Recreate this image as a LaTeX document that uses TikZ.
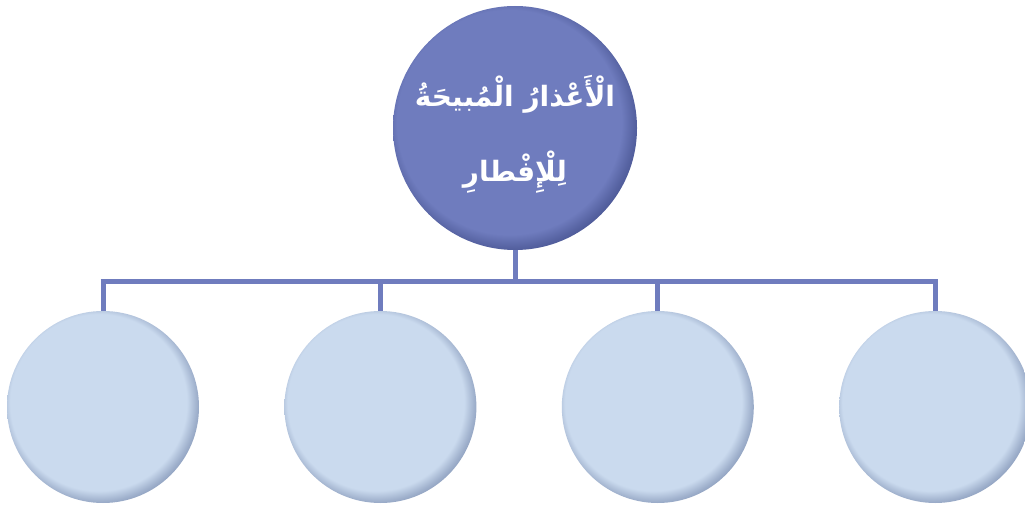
\documentclass[tikz,border=0pt]{standalone}
\usepackage{fontspec}
\usetikzlibrary{positioning, calc}
\TeXXeTstate=1
\newfontfamily\arabicfont[Script=Arabic]{DejaVu Sans}

\definecolor{rootcol}{HTML}{6F7CBE}
\definecolor{rootrim}{HTML}{46528F}
\definecolor{leafcol}{HTML}{CADAEE}
\definecolor{leafrim}{HTML}{8395B6}
\definecolor{linkcol}{HTML}{6F7CBE}

\pgfdeclareradialshading{rootbevel}{\pgfpoint{-2.2bp}{2.2bp}}{%
  color(0bp)=(rootcol); color(23bp)=(rootcol); color(25.5bp)=(rootrim!60!rootcol);
  color(27.5bp)=(rootrim); color(50bp)=(rootrim)}
\pgfdeclareradialshading{leafbevel}{\pgfpoint{-2.2bp}{2.2bp}}{%
  color(0bp)=(leafcol); color(23bp)=(leafcol); color(25.5bp)=(leafrim!60!leafcol);
  color(27.5bp)=(leafrim); color(50bp)=(leafrim)}

\begin{document}
\begin{tikzpicture}[
    x=1pt, y=-1pt,
    root/.style={circle, minimum size=244pt, inner sep=0pt, shading=rootbevel},
    title/.style={text=white, align=center, font=\arabicfont\bfseries\fontsize{28}{76}\selectfont},
    leaf/.style={circle, minimum size=192pt, inner sep=0pt, shading=leafbevel},
    link/.style={draw=linkcol, line width=5pt},
]
    \useasboundingbox (0,0) rectangle (1025,505);

    \node[root] (root) at (515,128) {};
    \node[title] (label) at ($(root.center)+(0,6)$)
        {\beginR الْأَعْذارُ الْمُبيحَةُ\endR\\[-1pt]\beginR لِلْإِفْطارِ\endR};

    \node[leaf] (c1) at (103,407) {};
    \node[leaf] (c2) [right=85pt of c1] {};
    \node[leaf] (c3) [right=85pt of c2] {};
    \node[leaf] (c4) [right=85pt of c3] {};

    \coordinate (bar) at (0,281);
    \draw[link] (root.south) -- (root.south |- bar);
    \draw[link] ($(c1.north |- bar)+(-2.5,0)$) -- ($(c4.north |- bar)+(2.5,0)$);
    \foreach \i in {1,...,4}
        \draw[link] (c\i.north |- bar) -- (c\i.north);
\end{tikzpicture}
\end{document}
